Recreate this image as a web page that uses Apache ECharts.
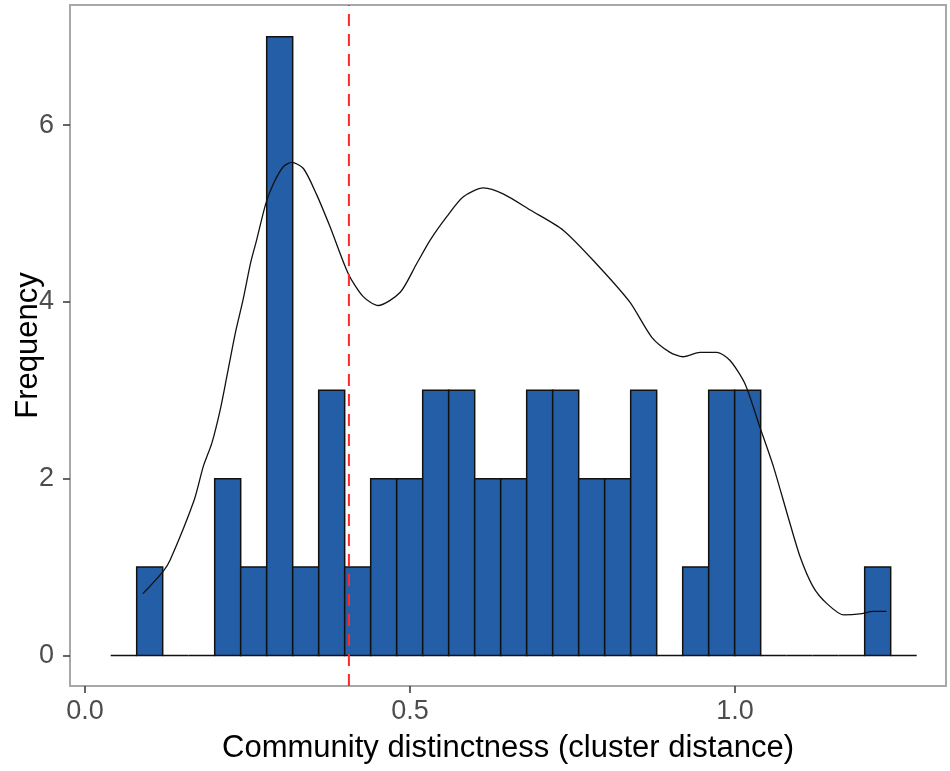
<!DOCTYPE html>
<html>
<head>
<meta charset="utf-8">
<script src="https://cdn.jsdelivr.net/npm/echarts@6/dist/echarts.min.js"></script>
<style>
  html, body { margin: 0; padding: 0; background: #fff; }
  #histChart { width: 950px; height: 771px; }
</style>
</head>
<body>
<div id="histChart"></div>
<script>
// histogram bins (cluster distance), counts per bin
const binStart = 0.0395
const binWidth = 0.04
const binCounts = [0, 1, 0, 0, 2, 1, 7, 1, 3, 1, 2, 2, 3, 3, 2, 2, 3, 3, 2, 2, 3, 0, 1, 3, 3, 0, 0, 0, 0, 1, 0]

// scaled density curve
const densityX = [0.089, 0.120, 0.131, 0.168, 0.182, 0.195, 0.208, 0.218, 0.231, 0.243, 0.255, 0.264, 0.278, 0.290, 0.305, 0.318, 0.336, 0.356, 0.377, 0.405, 0.428, 0.451, 0.485, 0.510, 0.531, 0.556, 0.582, 0.613, 0.644, 0.685, 0.736, 0.787, 0.838, 0.872, 0.900, 0.920, 0.946, 0.972, 0.992, 1.015, 1.038, 1.059, 1.080, 1.100, 1.120, 1.141, 1.167, 1.192, 1.213, 1.233]
const densityY = [0.70, 0.95, 1.08, 1.76, 2.14, 2.40, 2.78, 3.15, 3.64, 4.02, 4.45, 4.70, 5.11, 5.34, 5.53, 5.58, 5.51, 5.22, 4.85, 4.32, 4.06, 3.96, 4.11, 4.43, 4.70, 4.96, 5.19, 5.29, 5.22, 5.04, 4.81, 4.43, 4.00, 3.60, 3.43, 3.38, 3.43, 3.43, 3.34, 3.08, 2.59, 2.14, 1.61, 1.12, 0.78, 0.59, 0.46, 0.47, 0.50, 0.50]

// red dashed reference line
const cutoff = 0.406

const xTicks = [0, 0.5, 1.0]
const yTicks = [0, 2, 4, 6]

const chart = echarts.init(document.getElementById('histChart'))

const histData = binCounts.map((c, i) => [binStart + i * binWidth, binStart + (i + 1) * binWidth, c])
const densData = densityX.map((x, i) => [x, densityY[i]])

const tickFont = { fontFamily: 'Liberation Sans', fontSize: 27, color: '#4d4d4d' }
const titleFont = { fontFamily: 'Liberation Sans', fontSize: 31, color: '#000' }

const option = {
  animation: false,
  grid: {
    left: 70, right: 4, top: 5, bottom: 85,
    outerBoundsMode: 'none',
    show: true,
    borderColor: '#a8a8a8',
    borderWidth: 2,
    backgroundColor: '#fff',
  },
  xAxis: {
    type: 'value',
    min: -0.0231,
    max: 1.3246,
    name: 'Community distinctness (cluster distance)',
    nameLocation: 'middle',
    nameGap: 47,
    nameMoveOverlap: false,
    nameTextStyle: titleFont,
    splitLine: { show: false },
    axisLine: { show: false, onZero: false },
    axisTick: { show: true, length: 7, customValues: xTicks, lineStyle: { color: '#333', width: 1.5 } },
    axisLabel: {
      ...tickFont,
      margin: 12,
      customValues: xTicks,
      formatter: v => v.toFixed(1),
    },
  },
  yAxis: {
    type: 'value',
    min: -0.345,
    max: 7.36,
    name: 'Frequency',
    nameLocation: 'middle',
    nameGap: 26,
    nameMoveOverlap: false,
    nameTextStyle: titleFont,
    splitLine: { show: false },
    axisLine: { show: false, onZero: false },
    axisTick: { show: true, length: 7, customValues: yTicks, lineStyle: { color: '#333', width: 1.5 } },
    axisLabel: {
      ...tickFont,
      margin: 16,
      customValues: yTicks,
      formatter: v => String(v),
    },
  },
  series: [
    {
      type: 'custom',
      name: 'hist',
      data: histData,
      encode: { x: [0, 1], y: 2 },
      renderItem: function (params, api) {
        const p0 = api.coord([api.value(0), api.value(2)])
        const p1 = api.coord([api.value(1), 0])
        return {
          type: 'rect',
          shape: { x: p0[0], y: p0[1], width: p1[0] - p0[0], height: p1[1] - p0[1] },
          style: { fill: '#235ea7', stroke: '#111', lineWidth: 1.5 },
        }
      },
      z: 1,
    },
    {
      type: 'line',
      name: 'density',
      data: densData,
      smooth: 0.25,
      symbol: 'none',
      lineStyle: { color: '#111', width: 1.3 },
      z: 2,
    },
    {
      type: 'line',
      name: 'cutoff',
      data: [[cutoff, -0.345], [cutoff, 7.36]],
      symbol: 'none',
      lineStyle: { color: '#ff2a2a', width: 2, type: [12, 8] },
      z: 3,
    },
  ],
}

chart.setOption(option)
</script>
</body>
</html>
